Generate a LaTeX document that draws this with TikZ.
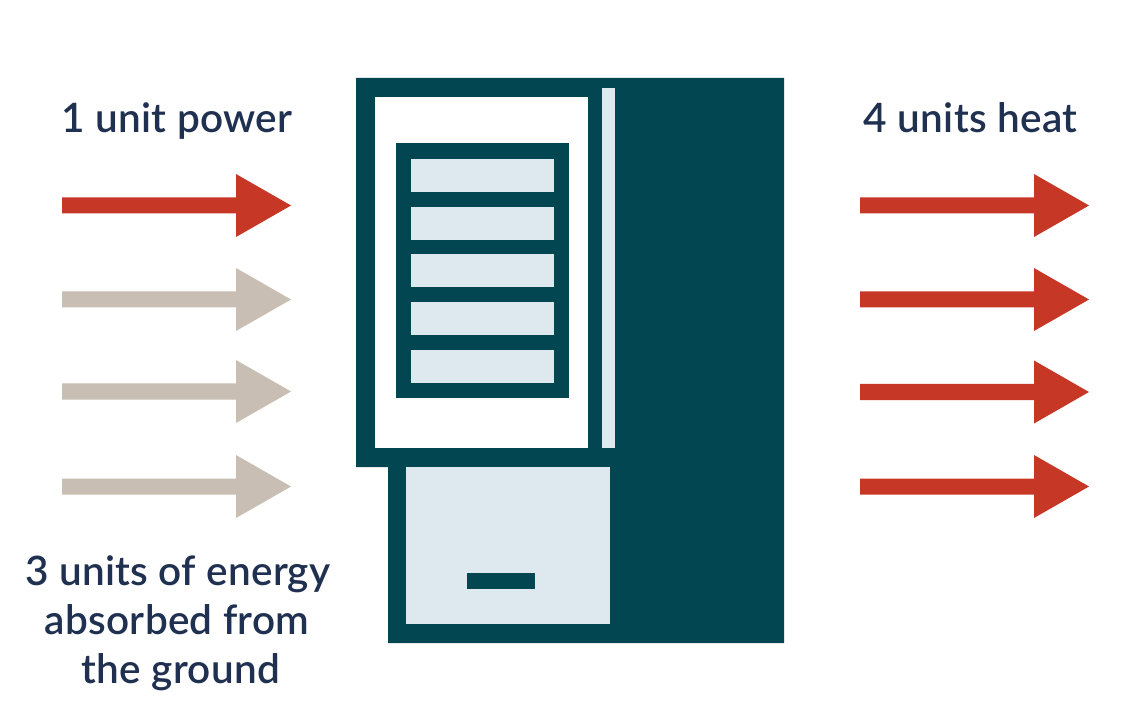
\documentclass[tikz,border=0pt]{standalone}
\usepackage{fontspec}
\setmainfont{Lato}[UprightFont=* Semibold,LetterSpace=0.7]
\definecolor{teal}{HTML}{024652}
\definecolor{pale}{HTML}{DEE9EF}
\definecolor{redc}{HTML}{C63726}
\definecolor{tan}{HTML}{C9BEB3}
\definecolor{ink}{HTML}{1F3050}
\newcommand{\arrowat}[3]{\fill[#1] (#2,#3-8) -- (#2+174,#3-8) -- (#2+174,#3-31.5) -- (#2+229,#3) -- (#2+174,#3+31.5) -- (#2+174,#3+8) -- (#2,#3+8) -- cycle;}
\begin{document}
\begin{tikzpicture}[x=1pt,y=-1pt,
  lab/.style={font=\fontsize{40.5}{49}\selectfont,text=ink,align=center,inner sep=0pt,anchor=base}]
\useasboundingbox[fill=white] (0,0) rectangle (1143,708);
\arrowat{redc}{62}{205.5}
\arrowat{tan}{62}{299.5}
\arrowat{tan}{62}{391.5}
\arrowat{tan}{62}{486.5}
\arrowat{redc}{860}{205.5}
\arrowat{redc}{860}{299.5}
\arrowat{redc}{860}{392}
\arrowat{redc}{860}{486.5}
\fill[teal] (356,78) -- (784,78) -- (784,643) -- (388,643) -- (388,467) -- (356,467) -- cycle;
\fill[white] (374.7,97) rectangle (587.5,448.2);
\fill[pale] (602.2,88) rectangle (615.4,448.2);
\fill[teal] (396,143.3) rectangle (568.5,397.8);
\foreach \y in {159,206.7,254.5,302.2,350} \fill[pale] (411,\y) rectangle (553.5,\y+33);
\fill[pale] (406.3,467) rectangle (610.4,624);
\fill[teal] (467,573.3) rectangle (534.8,588.8);
\node[lab] (a) at (177,133) {1 unit power};
\node[lab] (b) at (970.5,133) {4 units heat};
\node[lab] (c1) at (178,585) {3 units of energy};
\node[lab] (c2) at (177,634) {absorbed from};
\node[lab] (c3) at (181,683) {the ground};
\end{tikzpicture}
\end{document}
